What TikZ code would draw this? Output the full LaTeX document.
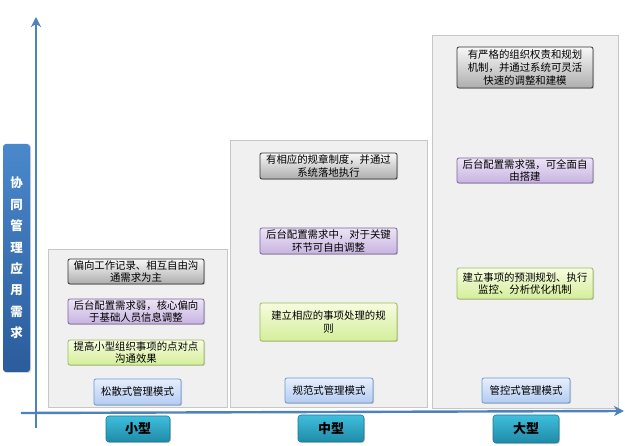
\documentclass[tikz,border=0pt]{standalone}
\usepackage{fontspec}
\setmainfont{Noto Sans CJK SC}
\usetikzlibrary{shadows,arrows.meta}
\definecolor{axisblue}{HTML}{4F81BD}
\definecolor{purpletop}{HTML}{ECE4F5}
\definecolor{purplebot}{HTML}{C7B3E0}
\definecolor{purpleedge}{HTML}{8064A2}
\definecolor{greentop}{HTML}{F6FCE0}
\definecolor{greenbot}{HTML}{D4EE9A}
\definecolor{greenedge}{HTML}{9BBB59}
\definecolor{modetop}{HTML}{E6EFFC}
\definecolor{modebot}{HTML}{B3CBF2}
\definecolor{modeedge}{HTML}{6F97D0}
\definecolor{cattop}{HTML}{3FBEDD}
\definecolor{catbot}{HTML}{1E8BA7}
\definecolor{catedge}{HTML}{1A7890}
\definecolor{ytop}{HTML}{4A88CC}
\definecolor{ybot}{HTML}{2B5C9C}
\begin{document}
\begin{tikzpicture}[x=1pt,y=-1pt,
  sz/.style 2 args={minimum width=#1pt, minimum height=#2pt},
  panel/.style={draw=black!22, fill=black!6, line width=0.8pt, inner sep=0pt,
    drop shadow={shadow xshift=1.2pt, shadow yshift=-1.2pt, opacity=0.25}},
  box/.style={rounded corners=2pt, line width=0.8pt, align=center, inner sep=0pt,
    font=\fontsize{10.4}{12.8}\selectfont,
    drop shadow={shadow xshift=1pt, shadow yshift=-1pt, opacity=0.35}},
  graybox/.style={box, draw=black!80, top color=black!3, bottom color=black!32},
  purplebox/.style={box, draw=purpleedge, top color=purpletop, bottom color=purplebot},
  greenbox/.style={box, draw=greenedge, top color=greentop, bottom color=greenbot},
  modebox/.style={box, draw=modeedge, top color=modetop, bottom color=modebot},
  catbox/.style={rounded corners=3pt, draw=catedge, line width=0.6pt, top color=cattop, bottom color=catbot,
    font=\bfseries\fontsize{13}{13}\selectfont, inner sep=0pt,
    drop shadow={shadow xshift=1pt, shadow yshift=-1.2pt, opacity=0.35}},
  ylab/.style={rounded corners=3pt, top color=ytop, bottom color=ybot, text=white, align=center,
    font=\bfseries\fontsize{12.5}{21.4}\selectfont, inner sep=0pt,
    drop shadow={shadow xshift=1.2pt, shadow yshift=-1pt, opacity=0.35}},
  axis/.style={draw=axisblue, line width=2.4pt, -{Stealth[length=10pt,width=10pt,inset=3pt]}}
]
\useasboundingbox (0,0) rectangle (625,446);

% panels
\node[panel, sz={179}{158}] (pan1) at (137.5,328) {};
\node[panel, sz={197}{267}] (pan2) at (328.5,273.5) {};
\node[panel, sz={186}{373}] (pan3) at (525,221.5) {};

% axes
\coordinate (yb) at (36,428);
\coordinate (yt) at (36,17);
\coordinate (xl) at (21,413);
\coordinate (xr) at (624,411);
\draw[axis] (yb) -- (yt);
\draw[axis] (xl) -- (xr);

% y label
\node[ylab, sz={27}{228}] (ylabel) at (16.5,258) {协\\同\\管\\理\\应\\用\\需\\求};

% panel 1
\node[graybox, sz={136}{25}] (g1) at (136,271.5) {偏向工作记录、相互自由沟\\通需求为主};
\node[purplebox, sz={136}{25}] (p1) at (136,311.5) {后台配置需求弱，核心偏向\\于基础人员信息调整};
\node[greenbox, sz={136}{25}] (gr1) at (136,352.5) {提高小型组织事项的点对点\\沟通效果};
\node[modebox, sz={87}{26}] (b1) at (137.5,392) {松散式管理模式};

% panel 2
\node[graybox, sz={137}{26}] (g2) at (328.5,166) {有相应的规章制度，并通过\\系统落地执行};
\node[purplebox, sz={137}{26}] (p2) at (328.5,241) {后台配置需求中，对于关键\\环节可自由调整};
\node[greenbox, sz={137}{38}] (gr2) at (328.5,322) {建立相应的事项处理的规\\则};
\node[modebox, sz={88}{25}] (b2) at (329,390.5) {规范式管理模式};

% panel 3
\node[graybox, sz={136}{41}] (g3) at (525,67.5) {有严格的组织权责和规划\\机制，并通过系统可灵活\\快速的调整和建模};
\node[purplebox, sz={136}{25}] (p3) at (525,170.5) {后台配置需求强，可全面自\\由搭建};
\node[greenbox, sz={136}{31}] (gr3) at (525,283.5) {建立事项的预测规划、执行\\监控、分析优化机制};
\node[modebox, sz={88}{25}] (b3) at (526,390.5) {管控式管理模式};

% categories
\node[catbox, sz={64}{26}] (c1) at (138,429) {小型};
\node[catbox, sz={66}{27}] (c2) at (331,428.5) {中型};
\node[catbox, sz={66}{28}] (c3) at (526,429) {大型};
\end{tikzpicture}
\end{document}
